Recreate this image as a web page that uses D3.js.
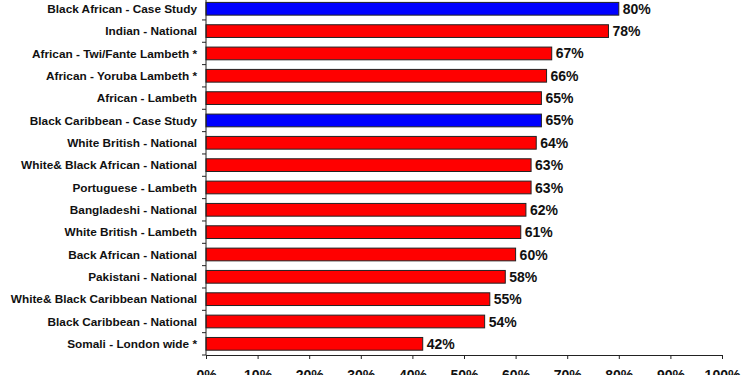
<!DOCTYPE html>
<html>
<head>
<meta charset="utf-8">
<script src="https://cdn.jsdelivr.net/npm/d3@7"></script>
<style>
  body { margin: 0; background: #fff; }
  svg { display: block; font-family: "Liberation Sans", Arial, sans-serif; }
</style>
</head>
<body>
<svg id="chart" width="750" height="375"></svg>
<script>
const categories = [
    "Black African - Case Study",
    "Indian - National",
    "African - Twi/Fante Lambeth *",
    "African - Yoruba Lambeth *",
    "African - Lambeth",
    "Black Caribbean - Case Study",
    "White British - National",
    "White& Black African - National",
    "Portuguese - Lambeth",
    "Bangladeshi - National",
    "White British - Lambeth",
    "Back African - National",
    "Pakistani - National",
    "White& Black Caribbean National",
    "Black Caribbean - National",
    "Somali - London wide *"
];
const values = [80, 78, 67, 66, 65, 65, 64, 63, 63, 62, 61, 60, 58, 55, 54, 42];
const caseStudy = [true, false, false, false, false, true, false, false, false, false, false, false, false, false, false, false];
const xTicks = [0, 10, 20, 30, 40, 50, 60, 70, 80, 90, 100];

function drawChart() {
    const svg = d3.select("#chart");
    svg.selectAll("*").remove();

    const left = 206;
    const right = 722;
    const top = -2.4;
    const bottom = 355;

    const data = categories.map((c, i) => ({ name: c, value: values[i], caseStudy: caseStudy[i] }));

    const xScale = d3.scaleLinear()
        .domain([0, 100])
        .range([left, right]);

    const yScale = d3.scaleBand()
        .domain(categories)
        .range([top, bottom])
        .paddingInner(0.43)
        .paddingOuter(0.215);

    svg.selectAll("rect.bar")
        .data(data)
        .enter()
        .append("rect")
        .attr("class", "bar")
        .attr("x", xScale(0))
        .attr("y", d => yScale(d.name))
        .attr("width", d => xScale(d.value) - xScale(0))
        .attr("height", yScale.bandwidth())
        .attr("fill", d => d.caseStudy ? "#0000ff" : "#ff0000")
        .attr("stroke", "#222")
        .attr("stroke-width", 1);

    svg.selectAll("text.value")
        .data(data)
        .enter()
        .append("text")
        .attr("class", "value")
        .attr("x", d => xScale(d.value) + 4)
        .attr("y", d => yScale(d.name) + yScale.bandwidth() / 2)
        .attr("dy", "0.36em")
        .attr("font-size", 14)
        .attr("font-weight", "bold")
        .attr("fill", "#111")
        .text(d => d.value + "%");

    // category labels
    svg.selectAll("text.cat")
        .data(data)
        .enter()
        .append("text")
        .attr("class", "cat")
        .attr("x", 197)
        .attr("y", d => yScale(d.name) + yScale.bandwidth() / 2)
        .attr("dy", "0.36em")
        .attr("text-anchor", "end")
        .attr("font-size", 11.8)
        .attr("font-weight", "bold")
        .attr("fill", "#111")
        .text(d => d.name);

    // y axis line with ticks between categories
    const step = yScale.step();
    const boundaries = d3.range(categories.length + 1).map(i => top + i * step);
    svg.append("line")
        .attr("x1", left).attr("x2", left)
        .attr("y1", top).attr("y2", bottom)
        .attr("stroke", "#222");
    svg.selectAll("line.ytick")
        .data(boundaries)
        .enter()
        .append("line")
        .attr("class", "ytick")
        .attr("x1", left - 4).attr("x2", left)
        .attr("y1", d => d).attr("y2", d => d)
        .attr("stroke", "#222");

    const xAxis = svg.append("g")
        .attr("transform", `translate(0,${bottom})`)
        .call(d3.axisBottom(xScale)
            .tickValues(xTicks)
            .tickFormat(d => d + "%")
            .tickSizeInner(4)
            .tickSizeOuter(0)
            .tickPadding(11));
    xAxis.select(".domain").attr("stroke", "#222");
    xAxis.selectAll(".tick line").attr("stroke", "#222");
    xAxis.selectAll(".tick text")
        .attr("font-family", "Liberation Sans, Arial, sans-serif")
        .attr("font-size", 14)
        .attr("font-weight", "bold")
        .attr("fill", "#111");
}

drawChart();
</script>
</body>
</html>
